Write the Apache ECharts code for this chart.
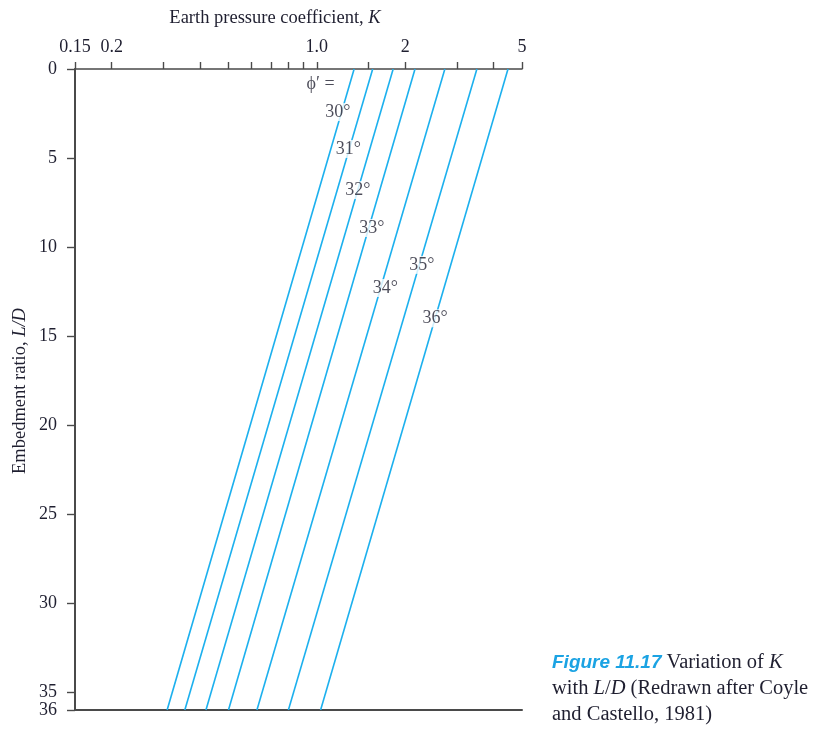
<!DOCTYPE html>
<html>
<head>
<meta charset="utf-8">
<script src="https://cdn.jsdelivr.net/npm/echarts@6/dist/echarts.min.js"></script>
<style>
html,body{margin:0;padding:0;background:#fff;}
#chart{width:823px;height:729px;}
</style>
</head>
<body>
<div id="chart"></div>
<script>
// ---- data ----
const phiLabels = ['30°', '31°', '32°', '33°', '34°', '35°', '36°'];
const ldEnds = [0, 36];                                         // L/D at the two ends of each line
const kAtTop = [1.34, 1.55, 1.82, 2.16, 2.73, 3.51, 4.48];      // K at L/D = 0
const kAtBottom = [0.309, 0.355, 0.419, 0.50, 0.625, 0.80, 1.03]; // K at L/D = 36
const labelK = [1.18, 1.28, 1.38, 1.54, 1.71, 2.28, 2.53];
const labelLD = [2.42, 4.49, 6.8, 8.93, 12.3, 11.0, 14.0];
const phiHeader = { text: 'ϕ′ =', k: 1.03, ld: 0.84 };
const xTickValues = [0.15, 0.2, 0.3, 0.4, 0.5, 0.6, 0.7, 0.8, 0.9, 1.0, 1.5, 2, 3, 4, 5];
const xLabelValues = [0.15, 0.2, 1.0, 2, 5];
const yTickValues = [0, 5, 10, 15, 20, 25, 30, 35, 36];

const serif = '"Liberation Serif", "DejaVu Serif", serif';
const lineColor = '#1cb0ee';
const axisColor = '#4a4a4a';
const textColor = '#1f1f30';

const series = phiLabels.map((name, i) => ({
  type: 'line',
  name: name,
  data: [[kAtTop[i], ldEnds[0]], [kAtBottom[i], ldEnds[1]]],
  symbol: 'none',
  lineStyle: { color: lineColor, width: 1.6 },
  silent: true,
  z: 2
}));

series.push({
  type: 'scatter',
  symbolSize: 0,
  z: 5,
  data: phiLabels.map((name, i) => ({ name: name, value: [labelK[i], labelLD[i]] }))
    .concat([{ name: phiHeader.text, value: [phiHeader.k, phiHeader.ld] }]),
  label: {
    show: true,
    position: 'inside',
    formatter: '{b}',
    fontFamily: serif,
    fontSize: 18,
    color: textColor,
    backgroundColor: '#fff',
    padding: [0, 1]
  }
});

const fmt = v => {
  const r = Math.round(v * 100) / 100;
  return r === 1 ? '1.0' : String(r);
};

const option = {
  animation: false,
  backgroundColor: '#fff',
  grid: { left: 75, right: 301, top: 69, bottom: 19, containLabel: false },
  xAxis: [{
    type: 'log',
    logBase: 10,
    min: 0.15,
    max: 5,
    position: 'top',
    axisLine: { show: true, lineStyle: { color: axisColor, width: 1.6 } },
    axisTick: { show: true, inside: false, length: 7, customValues: xTickValues, lineStyle: { color: axisColor, width: 1.4 } },
    axisLabel: { show: true, customValues: xLabelValues, formatter: fmt, margin: 13, fontFamily: serif, fontSize: 18, color: textColor },
    splitLine: { show: false },
    minorTick: { show: false }
  }, {
    type: 'log',
    logBase: 10,
    min: 0.15,
    max: 5,
    position: 'bottom',
    axisLine: { show: true, lineStyle: { color: axisColor, width: 2 } },
    axisTick: { show: false },
    axisLabel: { show: false },
    splitLine: { show: false }
  }],
  yAxis: {
    type: 'value',
    inverse: true,
    min: 0,
    max: 36,
    axisLine: { show: true, lineStyle: { color: axisColor, width: 2 } },
    axisTick: { show: true, inside: false, length: 8, customValues: yTickValues, lineStyle: { color: axisColor, width: 1.4 } },
    axisLabel: { show: true, customValues: yTickValues, margin: 18, fontFamily: serif, fontSize: 18, color: textColor },
    splitLine: { show: false }
  },
  graphic: [
    {
      type: 'text', x: 275, y: 18,
      style: {
        text: '{n|Earth pressure coefficient, }{i|K}',
        align: 'center', verticalAlign: 'middle',
        rich: {
          n: { fontFamily: serif, fontSize: 18.5, fill: textColor },
          i: { fontFamily: serif, fontSize: 18.5, fontStyle: 'italic', fill: textColor }
        }
      }
    },
    {
      type: 'text', x: 20, y: 391, rotation: Math.PI / 2,
      style: {
        text: '{n|Embedment ratio, }{i|L/D}',
        align: 'center', verticalAlign: 'middle',
        rich: {
          n: { fontFamily: serif, fontSize: 18.5, fill: textColor },
          i: { fontFamily: serif, fontSize: 18.5, fontStyle: 'italic', fill: textColor }
        }
      }
    },
    {
      type: 'text', left: 552, top: 650,
      style: {
        text: '{f|Figure 11.17}{n| Variation of }{i|K}\n{n|with }{i|L}{n|/}{i|D}{n| (Redrawn after Coyle}\n{n|and Castello, 1981)}',
        lineHeight: 26,
        rich: {
          f: { fontFamily: '"Liberation Sans", Arial, sans-serif', fontSize: 19, fontWeight: 'bold', fontStyle: 'italic', fill: '#1ba3e3', lineHeight: 26 },
          n: { fontFamily: serif, fontSize: 20.5, fill: textColor, lineHeight: 26 },
          i: { fontFamily: serif, fontSize: 20.5, fontStyle: 'italic', fill: textColor, lineHeight: 26 }
        }
      }
    }
  ],
  series: series
};

const chart = echarts.init(document.getElementById('chart'), null, { renderer: 'canvas' });
chart.setOption(option);
</script>
</body>
</html>
